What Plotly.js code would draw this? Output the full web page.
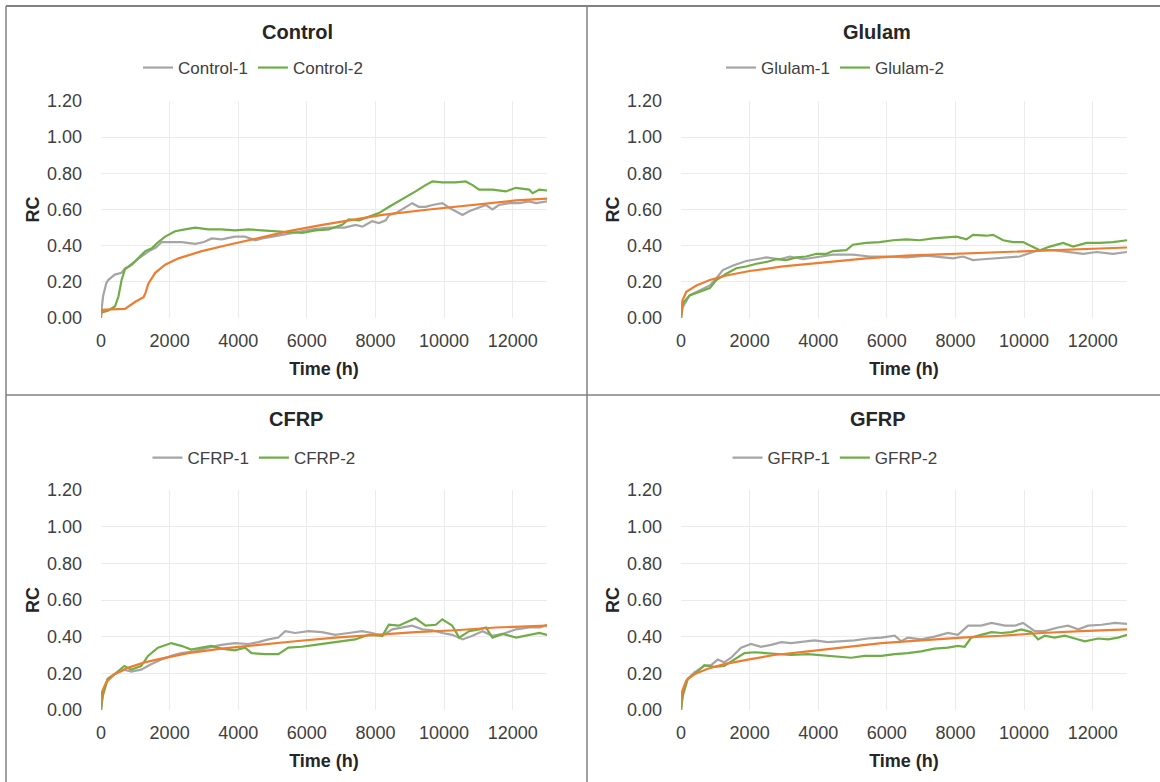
<!DOCTYPE html>
<html>
<head>
<meta charset="utf-8">
<script src="https://cdn.plot.ly/plotly-3.0.1.min.js"></script>
<style>html,body{margin:0;padding:0;background:#fff;}#chart{width:1160px;height:782px;}</style>
</head>
<body>
<div id="chart"></div>
<script>
// ---- data: [time (h), RC] pairs ----
const panelTitles = ["Control", "Glulam", "CFRP", "GFRP"];
const seriesNames = [["Control-1", "Control-2"], ["Glulam-1", "Glulam-2"], ["CFRP-1", "CFRP-2"], ["GFRP-1", "GFRP-2"]];
const xTickVals = [0, 2000, 4000, 6000, 8000, 10000, 12000];
const yTickVals = [0, 0.2, 0.4, 0.6, 0.8, 1.0, 1.2];

const control1 = [[0,0.02],[60,0.12],[150,0.19],[210,0.21],[400,0.24],[600,0.25],[700,0.275],[800,0.285],[1100,0.33],[1400,0.37],[1600,0.39],[1770,0.42],[2050,0.42],[2350,0.42],[2750,0.41],[3000,0.42],[3230,0.44],[3520,0.435],[3900,0.45],[4200,0.45],[4500,0.43],[4700,0.44],[5000,0.45],[5280,0.46],[5670,0.47],[6150,0.49],[6640,0.50],[7100,0.50],[7420,0.515],[7620,0.505],[7900,0.535],[8100,0.525],[8300,0.54],[8400,0.57],[8590,0.58],[8880,0.615],[9070,0.635],[9260,0.615],[9460,0.615],[9660,0.625],[9950,0.635],[10150,0.61],[10340,0.59],[10540,0.57],[10730,0.59],[11020,0.61],[11220,0.625],[11410,0.60],[11600,0.625],[11900,0.635],[12190,0.635],[12480,0.645],[12680,0.635],[13000,0.645]];
const control2 = [[0,0.03],[200,0.04],[410,0.065],[510,0.12],[600,0.21],[700,0.27],[900,0.295],[1090,0.33],[1290,0.37],[1480,0.385],[1670,0.42],[1870,0.45],[2160,0.48],[2450,0.49],[2750,0.50],[3120,0.49],[3500,0.49],[3910,0.485],[4300,0.49],[4690,0.485],[5080,0.48],[5470,0.475],[5860,0.47],[6250,0.485],[6640,0.49],[7030,0.515],[7220,0.545],[7520,0.54],[7810,0.56],[8100,0.58],[8400,0.615],[8590,0.635],[8880,0.67],[9170,0.70],[9460,0.735],[9660,0.755],[9950,0.75],[10340,0.75],[10630,0.755],[10830,0.735],[11020,0.71],[11410,0.71],[11800,0.70],[12090,0.72],[12480,0.71],[12580,0.69],[12780,0.71],[13000,0.705]];
const controlFit = [[0,0],[20,0.045],[300,0.048],[700,0.05],[1000,0.09],[1240,0.115],[1300,0.14],[1380,0.19],[1580,0.25],[1870,0.295],[2260,0.33],[2940,0.37],[3720,0.405],[4500,0.44],[5470,0.48],[6450,0.515],[7420,0.545],[8200,0.57],[9560,0.60],[10920,0.625],[12090,0.65],[13000,0.66]];

const glulam1 = [[0,0],[50,0.06],[250,0.125],[540,0.15],[840,0.18],[1030,0.22],[1220,0.265],[1520,0.29],[1900,0.315],[2200,0.325],[2490,0.335],[2880,0.325],[3170,0.34],[3560,0.325],[4040,0.34],[4430,0.35],[5010,0.35],[5500,0.34],[5990,0.34],[6570,0.335],[7150,0.345],[7640,0.335],[7930,0.33],[8220,0.34],[8510,0.32],[8800,0.325],[9190,0.33],[9580,0.335],[9870,0.34],[10260,0.365],[10460,0.375],[10850,0.375],[11330,0.365],[11720,0.355],[12110,0.365],[12590,0.355],[13000,0.365]];
const glulam2 = [[0,0],[50,0.08],[250,0.125],[540,0.145],[840,0.165],[1030,0.21],[1320,0.245],[1610,0.275],[1900,0.285],[2200,0.30],[2490,0.31],[2780,0.325],[3070,0.32],[3360,0.335],[3650,0.34],[3950,0.355],[4240,0.355],[4430,0.37],[4820,0.375],[5010,0.405],[5400,0.415],[5790,0.42],[6180,0.43],[6570,0.435],[6960,0.43],[7350,0.44],[7740,0.445],[8030,0.45],[8320,0.435],[8510,0.46],[8900,0.455],[9100,0.46],[9390,0.43],[9680,0.42],[9970,0.42],[10260,0.395],[10460,0.375],[10750,0.395],[11140,0.415],[11430,0.395],[11820,0.415],[12210,0.415],[12590,0.42],[13000,0.43]];
const glulamFit = [[0,0],[40,0.095],[155,0.145],[450,0.18],[840,0.21],[1320,0.235],[2000,0.26],[2970,0.285],[4040,0.305],[5400,0.33],[6570,0.345],[8030,0.355],[9580,0.365],[10750,0.375],[12010,0.385],[13000,0.39]];

const cfrp1 = [[0,0],[50,0.095],[195,0.17],[390,0.195],[680,0.22],[880,0.21],[1170,0.22],[1460,0.25],[1760,0.275],[2050,0.295],[2340,0.31],[2730,0.32],[3120,0.34],[3510,0.355],[3900,0.365],[4290,0.36],[4590,0.37],[4880,0.385],[5170,0.395],[5370,0.43],[5660,0.42],[6050,0.43],[6440,0.425],[6830,0.41],[7220,0.42],[7610,0.43],[7900,0.42],[8200,0.405],[8490,0.44],[8780,0.45],[9070,0.46],[9370,0.44],[9660,0.435],[9950,0.42],[10240,0.41],[10540,0.385],[10830,0.405],[11120,0.43],[11410,0.405],[11710,0.415],[12100,0.44],[12490,0.45],[12800,0.45],[13000,0.465]];
const cfrp2 = [[0,0],[50,0.075],[195,0.17],[390,0.195],[680,0.24],[880,0.22],[1170,0.24],[1370,0.295],[1660,0.34],[2050,0.365],[2340,0.35],[2630,0.33],[2930,0.34],[3220,0.35],[3510,0.335],[3900,0.325],[4200,0.34],[4390,0.31],[4780,0.305],[5170,0.305],[5460,0.34],[5850,0.345],[6240,0.355],[6630,0.365],[7020,0.375],[7410,0.385],[7800,0.41],[8200,0.405],[8390,0.465],[8680,0.46],[8980,0.485],[9170,0.50],[9460,0.46],[9760,0.465],[9950,0.495],[10240,0.46],[10440,0.395],[10730,0.43],[11020,0.44],[11220,0.45],[11410,0.395],[11710,0.415],[12100,0.395],[12490,0.41],[12780,0.42],[13000,0.41]];
const cfrpFit = [[0,0],[20,0.095],[150,0.15],[390,0.195],[780,0.23],[1270,0.26],[1760,0.28],[2540,0.31],[3510,0.335],[4490,0.355],[5660,0.375],[6830,0.395],[8000,0.41],[9170,0.425],[10340,0.435],[11510,0.45],[13000,0.46]];

const gfrp1 = [[0,0],[50,0.095],[195,0.17],[390,0.205],[680,0.24],[880,0.245],[1070,0.275],[1260,0.26],[1460,0.285],[1750,0.34],[2040,0.36],[2330,0.345],[2630,0.355],[2920,0.37],[3210,0.365],[3500,0.37],[3890,0.38],[4280,0.37],[4670,0.375],[5060,0.38],[5450,0.39],[5840,0.395],[6230,0.405],[6420,0.375],[6610,0.395],[7000,0.385],[7390,0.40],[7780,0.42],[8070,0.41],[8370,0.46],[8750,0.46],[9050,0.475],[9440,0.46],[9730,0.46],[9970,0.475],[10310,0.43],[10600,0.43],[10990,0.45],[11280,0.46],[11580,0.44],[11870,0.46],[12260,0.465],[12650,0.475],[13000,0.47]];
const gfrp2 = [[0,0],[50,0.075],[195,0.17],[390,0.195],[680,0.245],[970,0.235],[1260,0.24],[1560,0.275],[1850,0.31],[2140,0.315],[2430,0.31],[2820,0.305],[3210,0.30],[3700,0.305],[4090,0.30],[4470,0.295],[4960,0.285],[5350,0.295],[5840,0.295],[6230,0.305],[6610,0.31],[7000,0.32],[7390,0.335],[7780,0.34],[8070,0.35],[8270,0.345],[8460,0.395],[8750,0.41],[9050,0.425],[9340,0.42],[9630,0.425],[9920,0.44],[10210,0.425],[10410,0.385],[10600,0.405],[10890,0.395],[11190,0.405],[11480,0.39],[11770,0.375],[12160,0.39],[12450,0.385],[12740,0.395],[13000,0.41]];
const gfrpFit = [[0,0],[20,0.095],[150,0.16],[390,0.195],[780,0.225],[1260,0.25],[1950,0.275],[2720,0.30],[3700,0.32],[4670,0.34],[5840,0.365],[7000,0.38],[8170,0.395],[9340,0.405],[10510,0.42],[11670,0.43],[13000,0.44]];

const panelData = [[control1, control2, controlFit], [glulam1, glulam2, glulamFit], [cfrp1, cfrp2, cfrpFit], [gfrp1, gfrp2, gfrpFit]];

// ---- styling / layout ----
const W = 1160, H = 782;
const FONT = "Liberation Sans, Arial, sans-serif";
const colors = ["#A5A5A5", "#70AD47", "#ED7D31"];
const px = v => v / W, py = v => 1 - v / H;
const plotBoxes = [ // left, right, top, bottom in pixels
  [101, 547, 101, 318], [681, 1127, 101, 318],
  [101, 547, 490, 710], [681, 1127, 490, 710]
];
const titlePos = [[297, 32], [877, 32], [296, 419], [878, 419]];
const legendPos = [[253, 68], [835, 68], [254, 458], [835, 458]];

const traces = [];
const layout = {
  width: W, height: H,
  margin: {l: 0, r: 0, t: 0, b: 0},
  paper_bgcolor: "#fff", plot_bgcolor: "#fff",
  font: {family: FONT, color: "#404040", size: 18},
  annotations: [], shapes: []
};

panelData.forEach((series, i) => {
  const n = i + 1, sfx = n === 1 ? "" : String(n);
  const legendName = "legend" + sfx;
  series.forEach((pts, j) => {
    traces.push({
      type: "scatter", mode: "lines",
      x: pts.map(p => p[0]), y: pts.map(p => p[1]),
      xaxis: "x" + sfx, yaxis: "y" + sfx,
      name: j < 2 ? seriesNames[i][j] : "fit",
      showlegend: j < 2, legend: legendName,
      line: {color: colors[j], width: 2.2},
      hoverinfo: "skip"
    });
  });
  const b = plotBoxes[i];
  layout["xaxis" + sfx] = {
    domain: [px(b[0]), px(b[1])], anchor: "y" + sfx,
    range: [0, 13000], tickvals: xTickVals, ticktext: xTickVals.map(String),
    showgrid: true, gridcolor: "#EBEBEB", gridwidth: 1, zeroline: false, showline: false,
    ticks: "", ticklabelstandoff: 10,
    tickfont: {family: FONT, size: 18, color: "#404040"},
    title: {text: "Time (h)", standoff: 12, font: {family: FONT, size: 18, color: "#262626", weight: "bold"}}
  };
  layout["yaxis" + sfx] = {
    domain: [py(b[3]), py(b[2])], anchor: "x" + sfx,
    range: [0, 1.2], tickvals: yTickVals, ticktext: yTickVals.map(v => v.toFixed(2)),
    showgrid: true, gridcolor: "#EBEBEB", gridwidth: 1, zeroline: false, showline: false,
    ticks: "", ticklabelstandoff: 18,
    tickfont: {family: FONT, size: 18, color: "#404040"},
    title: {text: "RC", standoff: 2, font: {family: FONT, size: 18, color: "#262626", weight: "bold"}}
  };
  layout[legendName] = {
    orientation: "h", x: px(legendPos[i][0]), y: py(legendPos[i][1]),
    xanchor: "center", yanchor: "middle", xref: "paper", yref: "paper",
    font: {family: FONT, size: 17, color: "#404040"}, bgcolor: "rgba(0,0,0,0)",
    itemwidth: 30, tracegroupgap: 0
  };
  layout.annotations.push({
    text: panelTitles[i], xref: "paper", yref: "paper",
    x: px(titlePos[i][0]), y: py(titlePos[i][1]), xanchor: "center", yanchor: "middle",
    showarrow: false, font: {family: FONT, size: 20, color: "#262626", weight: "bold"}
  });
});

// panel frame lines
const lineStyle = {color: "#808080", width: 1.5};
layout.shapes.push(
  {type: "line", xref: "paper", yref: "paper", x0: px(6), x1: 1, y0: py(6), y1: py(6), line: {color: "#595959", width: 1.5}},
  {type: "line", xref: "paper", yref: "paper", x0: px(6), x1: px(6), y0: py(6), y1: 0, line: lineStyle},
  {type: "line", xref: "paper", yref: "paper", x0: px(587), x1: px(587), y0: py(6), y1: 0, line: lineStyle},
  {type: "line", xref: "paper", yref: "paper", x0: px(6), x1: 1, y0: py(395), y1: py(395), line: lineStyle}
);

Plotly.newPlot("chart", traces, layout, {staticPlot: true, displayModeBar: false});
</script>
</body>
</html>
